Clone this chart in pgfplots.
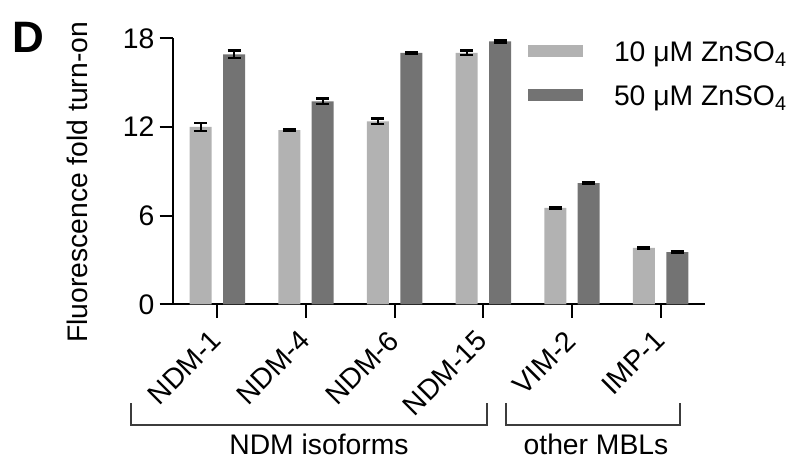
\documentclass[border=0pt]{standalone}
\usepackage{pgfplots}
\pgfplotsset{compat=1.18}
\usepackage{pgfplotstable}
\usepackage{fontspec}
\setmainfont{Liberation Sans}

\definecolor{lowzn}{RGB}{178,178,178}
\definecolor{highzn}{RGB}{115,115,115}
\definecolor{bracketgray}{RGB}{60,60,60}

% fold turn-on: x index, mean, error
\pgfplotstableread{
x  y      err
0  12.00  0.28
1  11.78  0.05
2  12.38  0.18
3  17.02  0.15
4  6.52   0.05
5  3.82   0.06
}\lowtable
\pgfplotstableread{
x  y      err
0  16.92  0.27
1  13.74  0.20
2  17.02  0.05
3  17.80  0.07
4  8.20   0.05
5  3.53   0.06
}\hightable

\newcommand{\bigfont}{\fontsize{28.3bp}{34bp}\selectfont}

\begin{document}
\begin{tikzpicture}
\useasboundingbox (0,0) rectangle (807bp,462bp);
\begin{axis}[
  at={(173bp,157.7bp)}, anchor=south west,
  scale only axis, width=532bp, height=266bp,
  xmin=-0.5, xmax=5.5, ymin=0, ymax=18,
  axis x line*=bottom, axis y line*=left,
  axis line style={line width=2bp, black},
  every tick/.style={line width=2bp, black},
  tick align=outside,
  major tick length=13.5bp,
  ytick={0,6,12,18},
  xtick={0,...,5},
  xticklabels={NDM-1,NDM-4,NDM-6,NDM-15,VIM-2,IMP-1},
  ticklabel style={font=\bigfont},
  /pgf/number format/assume math mode=true,
  yticklabel style={anchor=east, inner sep=0pt, xshift=-5bp},
  xticklabel style={xshift=-8bp, yshift=-11bp, rotate=45, anchor=north east, inner sep=0pt},
  ylabel={Fluorescence fold turn-on},
  ylabel style={font=\bigfont, at={(rel axis cs:-0.1598,0.458)}, anchor=base, rotate=0},
  ybar, bar width=22bp,
  legend image code/.code={\fill[#1] (0bp,-6bp) rectangle (55bp,6bp);},
  legend style={draw=none, fill=none, inner sep=0pt, outer sep=0pt,
    at={(rel axis cs:0.6673,0.9917)}, anchor=north west,
    row sep=22.5bp,
    nodes={font=\bigfont, inner sep=0pt, text height=21bp, text depth=0bp},
    /tikz/every odd column/.append style={column sep=31bp}},
  legend cell align=left,
  error bars/y dir=both, error bars/y explicit,
  error bars/error bar style={line width=2bp, black},
  error bars/error mark options={rotate=90, mark size=6.5bp, line width=2.5bp, black},
]
\addplot[fill=lowzn, draw=none, bar shift=-16.7bp]
  table[x=x, y=y, y error=err] {\lowtable};
\addlegendentry{10 μM ZnSO\textsubscript{4}}
\addplot[fill=highzn, draw=none, bar shift=16.7bp]
  table[x=x, y=y, y error=err] {\hightable};
\addlegendentry{50 μM ZnSO\textsubscript{4}}
\end{axis}

% panel letter
\node[anchor=base west, inner sep=0pt, font=\fontsize{44bp}{50bp}\selectfont\bfseries]
  at (12bp,409bp) {D};

% group brackets
\draw[bracketgray, line width=1.7bp]
  (130.7bp,58.7bp) -- (130.7bp,37bp) -- (487.3bp,37bp) -- (487.3bp,58.7bp);
\draw[bracketgray, line width=1.7bp]
  (505.7bp,58.7bp) -- (505.7bp,37bp) -- (680bp,37bp) -- (680bp,58.7bp);
\node[anchor=base, inner sep=0pt, font=\bigfont] at (319bp,8bp) {NDM isoforms};
\node[anchor=base, inner sep=0pt, font=\bigfont] at (596bp,8bp) {other MBLs};
\end{tikzpicture}
\end{document}
